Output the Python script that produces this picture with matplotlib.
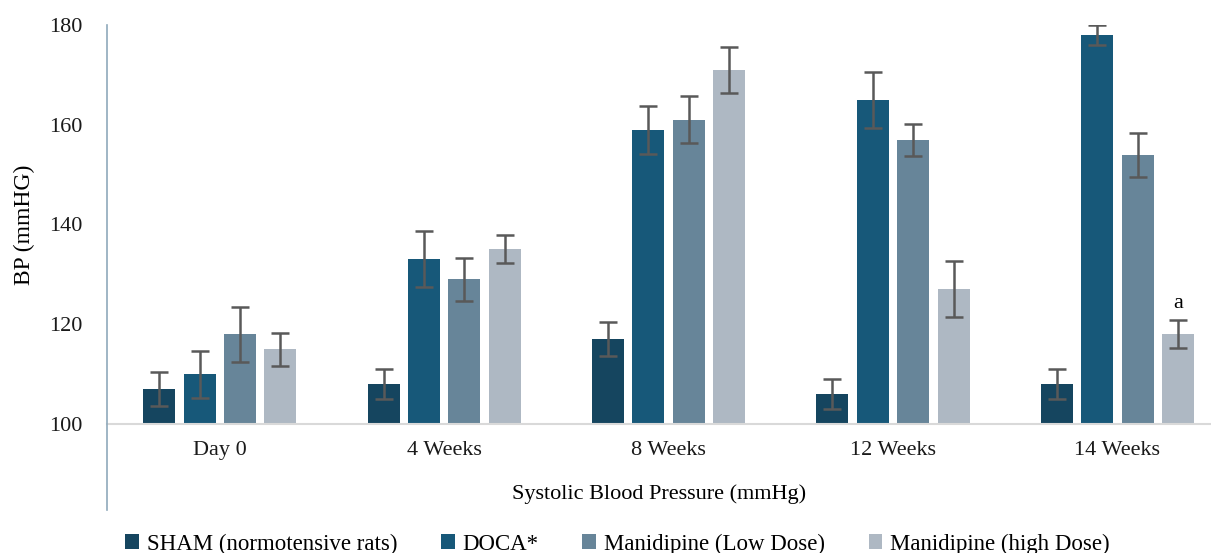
import numpy as np
import matplotlib.pyplot as plt
from matplotlib.lines import Line2D

plt.rcParams['font.family'] = ['Liberation Serif', 'DejaVu Serif']

# systolic blood pressure (mmHg), mean and error per group
timepoints = ['Day 0', '4 Weeks', '8 Weeks', '12 Weeks', '14 Weeks']
groups = ['SHAM (normotensive rats)', 'DOCA*', 'Manidipine (Low Dose)', 'Manidipine (high Dose)']
sham = [107, 108, 117, 106, 108]
doca = [110, 133, 159, 165, 178]
mani_low = [118, 129, 161, 157, 154]
mani_high = [115, 135, 171, 127, 118]
sham_err = [3.4, 3.0, 3.4, 3.0, 3.0]
doca_err = [4.7, 5.6, 4.8, 5.6, 2.0]
mani_low_err = [5.5, 4.3, 4.7, 3.2, 4.4]
mani_high_err = [3.3, 2.8, 4.6, 5.6, 2.8]

means = [sham, doca, mani_low, mani_high]
errs = [sham_err, doca_err, mani_low_err, mani_high_err]
colors = ['#15455f', '#175879', '#678599', '#aeb8c3']

fig = plt.figure(figsize=(12.11, 5.53), dpi=100)
ax = fig.add_axes([107/1211, 129/553, 1 - 107/1211, 399/553])

x = np.arange(len(timepoints))
step = 0.18
width = 0.143
for i in range(4):
    pos = x + (i - 1.5) * step
    ax.bar(pos, np.array(means[i]) - 100, width, bottom=100, color=colors[i],
           label=groups[i], zorder=2)
    ax.errorbar(pos, means[i], yerr=errs[i], fmt='none', ecolor='#595959',
                elinewidth=1.8, capsize=6.5, capthick=1.8, zorder=3)

# significance mark over the high dose group at 14 weeks
ax.text(4 + 1.5 * step, mani_high[4] + mani_high_err[4] + 1.5, 'a',
        ha='center', va='bottom', fontsize=16)

ax.set_xlim(-0.503, 4.417)
ax.set_ylim(100, 180)
ax.set_yticks(range(100, 181, 20))
ax.set_xticks(x)
ax.set_xticklabels(timepoints)
ax.tick_params(axis='both', length=0, labelsize=16, colors='#1a1a1a')
ax.tick_params(axis='x', pad=12)
ax.tick_params(axis='y', pad=18)

for s in ['top', 'right', 'left']:
    ax.spines[s].set_visible(False)
ax.spines['bottom'].set_color('#d9d9d9')
ax.spines['bottom'].set_linewidth(1.5)

# left axis line runs down past the category labels
ax.add_line(Line2D([0, 0], [1, -0.215], transform=ax.transAxes, color='#8fa9bb',
                   linewidth=1.2, clip_on=False, zorder=4))

ax.set_ylabel('BP (mmHG)', fontsize=17, labelpad=10)
ax.set_xlabel('Systolic Blood Pressure (mmHg)', fontsize=16, labelpad=18)

fig.legend(loc='center', bbox_to_anchor=(0.51, 0.016), ncol=4, frameon=False,
           fontsize=16.5, handlelength=0.6, handleheight=0.6, handletextpad=0.35,
           columnspacing=1.9)

fig.savefig('out.png', dpi=100)
